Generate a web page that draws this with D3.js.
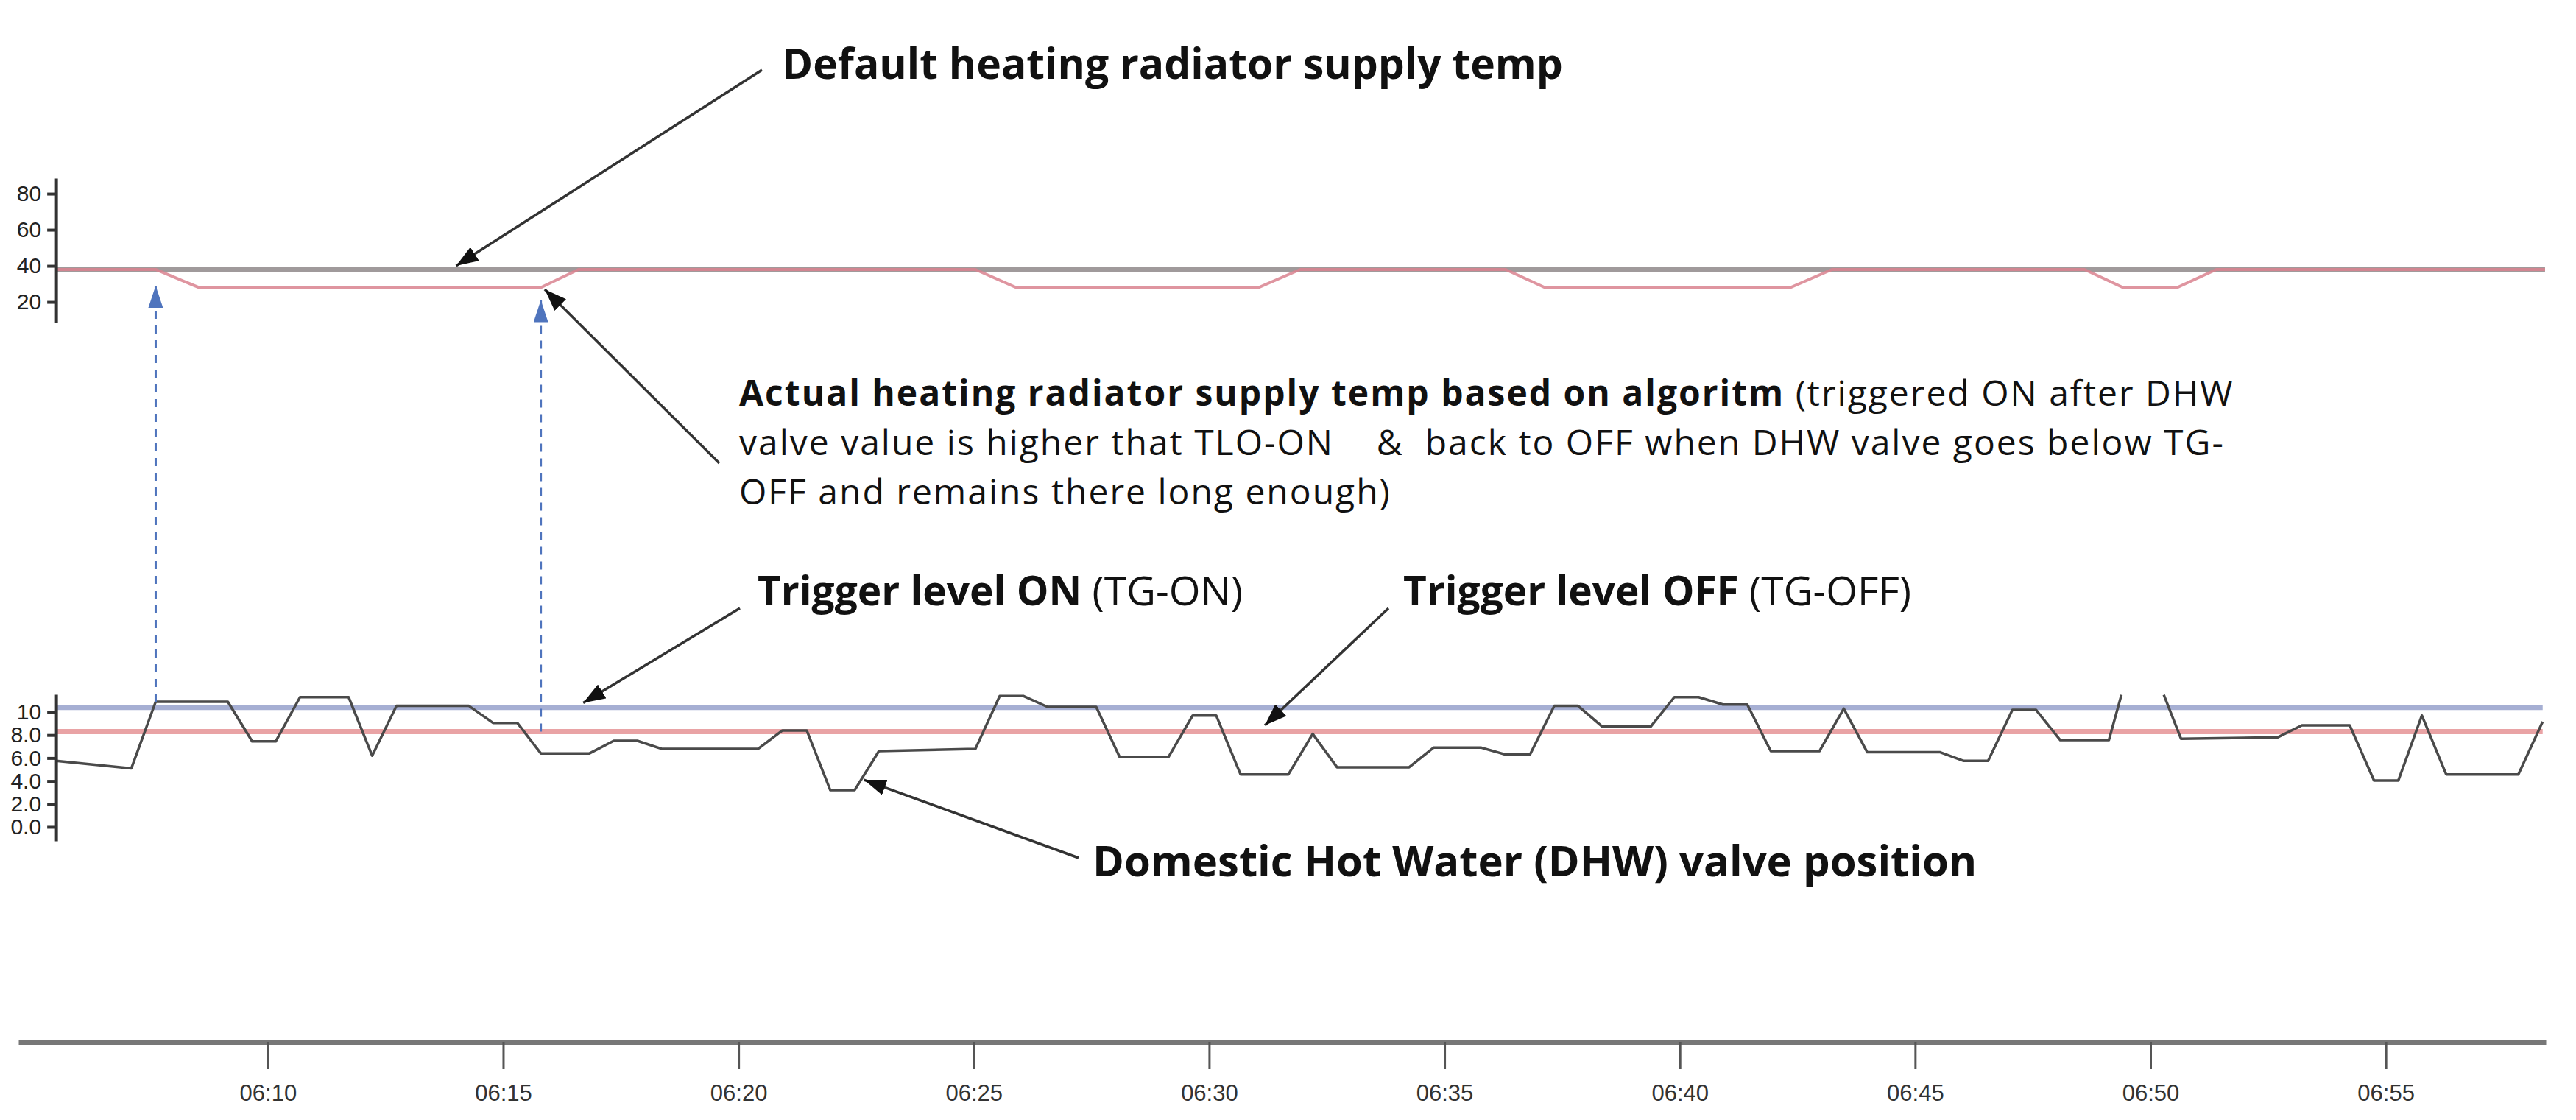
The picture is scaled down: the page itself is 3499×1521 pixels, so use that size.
<!DOCTYPE html>
<html><head><meta charset="utf-8">
<script src="https://cdn.jsdelivr.net/npm/d3@7"></script>
<style>
html,body{margin:0;padding:0;background:#fff;}
svg{display:block;}
</style></head>
<body>
<svg id="chart" width="3499" height="1521"></svg>
<script>
// ---------------- DATA ----------------
// Domestic Hot Water valve position (lower panel)
const dhwTimes = ["06:05:30","06:07:06","06:07:37","06:09:09","06:09:40","06:10:10","06:10:41","06:11:43","06:12:13","06:12:44",
  "06:14:16","06:14:47","06:15:18","06:15:48","06:16:50","06:17:21","06:17:51","06:18:22","06:20:25","06:20:56",
  "06:21:27","06:21:57","06:22:28","06:22:59","06:25:02","06:25:33","06:26:03","06:26:34","06:27:36","06:28:06",
  "06:29:08","06:29:39","06:30:09","06:30:40","06:31:41","06:32:12","06:32:43","06:34:15","06:34:46","06:35:47",
  "06:36:18","06:36:49","06:37:20","06:37:50","06:38:21","06:39:23","06:39:53","06:40:24","06:40:55","06:41:26",
  "06:41:56","06:42:58","06:43:29","06:43:59","06:45:32","06:46:02","06:46:33","06:47:04","06:47:34","06:48:05",
  "06:49:07","06:49:23","06:49:48","06:50:17","06:50:39","06:52:42","06:53:13","06:54:14","06:54:45","06:55:16",
  "06:55:46","06:56:17","06:57:49","06:58:20"];
const dhwValues = [5.75,5.1,10.9,10.9,7.45,7.45,11.3,11.3,6.2,10.55,
  10.55,9.06,9.06,6.4,6.4,7.5,7.5,6.8,6.8,8.4,
  8.4,3.2,3.2,6.6,6.8,11.4,11.4,10.45,10.45,6.07,
  6.07,9.7,9.7,4.57,4.57,8.1,5.2,5.2,6.9,6.9,
  6.3,6.3,10.55,10.55,8.74,8.74,11.3,11.3,10.66,10.66,
  6.6,6.6,10.3,6.5,6.5,5.75,5.75,10.2,10.2,7.56,
  7.56,11.5,null,11.5,7.67,7.8,8.85,8.85,4.04,4.04,
  9.7,4.57,4.57,9.17];

// Actual heating radiator supply temp (upper panel)
const supplyTimes = ["06:05:30","06:07:37","06:08:32","06:15:48","06:16:36","06:25:02","06:25:54","06:31:03","06:31:56",
  "06:36:18","06:37:08","06:42:21","06:43:14","06:48:36","06:49:25","06:50:34","06:51:24","06:58:23"];
const supplyValues = [38,38,28,28,38,38,28,28,38,38,28,28,38,38,28,28,38,38];

// Default heating radiator supply temp
const defaultTimes = ["06:05:30","06:58:23"];
const defaultValues = [38,38];

// Trigger levels
const tgOn = 10.4;
const tgOff = 8.3;

// Axis ticks
const tempTicks = [20,40,60,80];
const valveTicks = [0,2,4,6,8,10];
const timeTicks = ["06:10:00","06:15:00","06:20:00","06:25:00","06:30:00","06:35:00","06:40:00","06:45:00","06:50:00","06:55:00"];
const timeDomain = ["06:04:42","06:58:24"];

// Switch moments (blue dashed arrows): time, start value on valve scale, tip value on temp scale
const switchTimes = ["06:07:37","06:15:48"];
const switchFrom = [10.9, 8.3];
const switchTo = [29, 21];

// ---------------- CHART ----------------
const parse = d3.timeParse("%H:%M:%S");
const svg = d3.select("#chart");
svg.append("rect").attr("width",3499).attr("height",1521).attr("fill","#fff");

const x = d3.scaleTime().domain(timeDomain.map(parse)).range([25, 3458]);
const yT = d3.scaleLinear().domain([8.6, 88.6]).range([438, 242]);
const yV = d3.scaleLinear().domain([-1.22, 11.54]).range([1142, 943]);
const axisX0 = x(parse(dhwTimes[0]));

const defs = svg.append("defs");
function marker(id, color, len, wid){
  defs.append("marker").attr("id",id).attr("markerUnits","userSpaceOnUse")
    .attr("viewBox",`0 0 ${len} ${wid}`).attr("refX",len).attr("refY",wid/2)
    .attr("markerWidth",len).attr("markerHeight",wid).attr("orient","auto")
    .append("path").attr("d",`M0,0L${len},${wid/2}L0,${wid}Z`).attr("fill",color);
}
marker("blk","#111",30,22);
marker("blu","#4f74bd",30,20);

// ---- upper panel ----
const lineT = d3.line().x(d=>x(d[0])).y(d=>yT(d[1]));
svg.append("path").datum(defaultTimes.map((t,i)=>[parse(t),defaultValues[i]]))
  .attr("d",lineT).attr("fill","none").attr("stroke","#a09a9b").attr("stroke-width",7);
svg.append("path").datum(supplyTimes.map((t,i)=>[parse(t),supplyValues[i]]))
  .attr("d",lineT).attr("fill","none").attr("stroke","#d9838f").attr("stroke-width",4)
  .attr("stroke-opacity",0.85).attr("stroke-linejoin","round");

const gT = svg.append("g").attr("transform",`translate(${axisX0},0)`)
  .call(d3.axisLeft(yT).tickValues(tempTicks).tickSize(12).tickPadding(8).tickSizeOuter(0));

// ---- lower panel ----
const ext = d3.extent(dhwTimes.map(parse));
svg.append("line").attr("x1",x(ext[0])).attr("x2",x(ext[1]))
  .attr("y1",yV(tgOn)).attr("y2",yV(tgOn)).attr("stroke","#a6afd3").attr("stroke-width",7);
svg.append("line").attr("x1",x(ext[0])).attr("x2",x(ext[1]))
  .attr("y1",yV(tgOff)).attr("y2",yV(tgOff)).attr("stroke","#e9a3a5").attr("stroke-width",7);

const lineV = d3.line().defined(d=>d[1]!==null).x(d=>x(d[0])).y(d=>yV(d[1]));
svg.append("path").datum(dhwTimes.map((t,i)=>[parse(t),dhwValues[i]]))
  .attr("d",lineV).attr("fill","none").attr("stroke","#4a4a4a").attr("stroke-width",3.5)
  .attr("stroke-linejoin","round");

const gV = svg.append("g").attr("transform",`translate(${axisX0},0)`)
  .call(d3.axisLeft(yV).tickValues(valveTicks).tickFormat(d3.format(".2r")).tickSize(12).tickPadding(8).tickSizeOuter(0));

[gT,gV].forEach(g=>{
  g.attr("font-family","'Liberation Sans', Arial, sans-serif").attr("font-size",30);
  g.select(".domain").attr("stroke","#333").attr("stroke-width",4);
  g.selectAll(".tick line").attr("stroke","#333").attr("stroke-width",4);
  g.selectAll(".tick text").attr("fill","#222");
});

// ---- x axis ----
const gX = svg.append("g").attr("transform","translate(0,1415)")
  .call(d3.axisBottom(x).tickValues(timeTicks.map(parse)).tickFormat(d3.timeFormat("%H:%M"))
  .tickSize(37).tickPadding(21).tickSizeOuter(0));
gX.attr("font-family","'Liberation Sans', Arial, sans-serif").attr("font-size",31);
gX.select(".domain").attr("stroke","#777").attr("stroke-width",7);
gX.selectAll(".tick line").attr("stroke","#555").attr("stroke-width",3);
gX.selectAll(".tick text").attr("fill","#333");

// ---- blue dashed switch arrows ----
switchTimes.forEach((t,i)=>{
  svg.append("line").attr("x1",x(parse(t))).attr("x2",x(parse(t)))
    .attr("y1",yV(switchFrom[i])).attr("y2",yT(switchTo[i]))
    .attr("stroke","#4f74bd").attr("stroke-width",3).attr("stroke-dasharray","11,9")
    .attr("marker-end","url(#blu)");
});

// ---- annotations ----
const font = "'Open Sans', 'Noto Sans', sans-serif";
function label(xp, yp, fs, parts){
  const t = svg.append("text").attr("x",xp).attr("y",yp).attr("font-family",font)
    .attr("font-size",fs).attr("fill","#111").style("white-space","pre");
  parts.forEach(p=>{
    t.append("tspan").attr("font-weight",p[1]?700:400).text(p[0]);
  });
  return t;
}
label(1062,107,57,[["Default heating radiator supply temp",true]]);

// multi-line explanation
const paraLines = [
  [["Actual heating radiator supply temp based on algoritm",true],[" (triggered ON after DHW",false]],
  [["valve value is higher that TLO-ON    &  back to OFF when DHW valve goes below TG-",false]],
  [["OFF and remains there long enough)",false]]
];
paraLines.forEach((ln,i)=>{
  const t = svg.append("text").attr("x",1004).attr("y",551 + i*67).attr("font-family",font)
    .attr("font-size",48).attr("letter-spacing",2).attr("fill","#111").style("white-space","pre");
  ln.forEach(p=>t.append("tspan").attr("font-weight",p[1]?700:400).text(p[0]));
});

label(1029,822,55,[["Trigger level ON",true],[" (TG-ON)",false]]);
label(1906,822,55,[["Trigger level OFF",true],[" (TG-OFF)",false]]);
label(1484,1190,58,[["Domestic Hot Water (DHW) valve position",true]]);

// black arrows: tail in px (near label), tip on data (time, value, scale)
const arrows = [
  {tail:[1035,95],  t:"06:14:00", v:40,  s:yT},
  {tail:[977,629],  t:"06:15:53", v:27,  s:yT},
  {tail:[1005,826], t:"06:16:42", v:10.8,s:yV},
  {tail:[1886,826], t:"06:31:11", v:8.85,s:yV},
  {tail:[1465,1165],t:"06:22:40", v:4.1, s:yV}
];
arrows.forEach(a=>{
  svg.append("line").attr("x1",a.tail[0]).attr("y1",a.tail[1])
    .attr("x2",x(parse(a.t))).attr("y2",a.s(a.v))
    .attr("stroke","#333").attr("stroke-width",3.5).attr("marker-end","url(#blk)");
});
</script>
</body></html>
